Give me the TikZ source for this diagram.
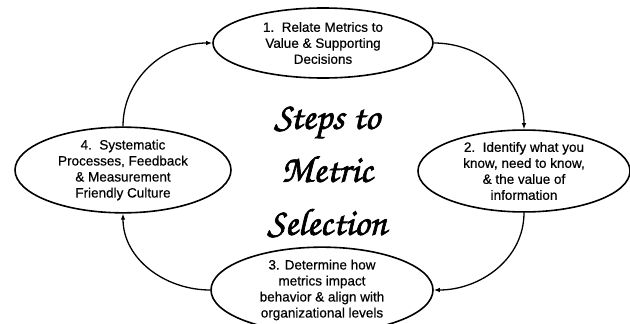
\documentclass[tikz,border=0pt]{standalone}
\usepackage{fontspec}
\setmainfont{Liberation Sans}[FakeBold=0.5]
\newfontfamily\chorus{TeX Gyre Chorus}[FakeBold=1.8]
\usetikzlibrary{shapes.geometric,arrows.meta}
\begin{document}
\begin{tikzpicture}[x=1pt,y=-1pt,
  stage/.style={ellipse, draw, line width=1.6pt, inner sep=0pt,
    font=\fontsize{13.5}{16}\selectfont, align=center},
  flow/.style={line width=1.3pt, -{Latex[length=6pt,width=4.5pt]}}]
  \useasboundingbox (0,0) rectangle (630,324);

  \node[stage, minimum width=220, minimum height=70] (s1) at (323,43)
    {1.\ \ Relate Metrics to\\Value \& Supporting\\Decisions};
  \node[stage, minimum width=212, minimum height=76] (s2) at (524,171)
    {2.\ \ Identify what you\\know, need to know,\\\& the value of\\information};
  \node[stage, minimum width=222, minimum height=70] (s3) at (322,290)
    {3. Determine how\\metrics impact\\behavior \& align with\\organizational levels};
  \node[stage, minimum width=216, minimum height=74] (s4) at (123,170)
    {4.\ \ Systematic\\Processes, Feedback\\\& Measurement\\Friendly Culture};

  \node[font=\chorus\fontsize{38}{53}\selectfont, align=center] (title) at (327,172)
    {Steps to\\Metric\\Selection};

  \draw[flow] (s1.east) to[out=0, in=90] (s2.north);
  \draw[flow] (s2.south) to[out=-90, in=0] (s3.east);
  \draw[flow] (s3.west) to[out=180, in=-90] (s4.south);
  \draw[flow] (s4.north) to[out=90, in=180] (s1.west);
\end{tikzpicture}
\end{document}
